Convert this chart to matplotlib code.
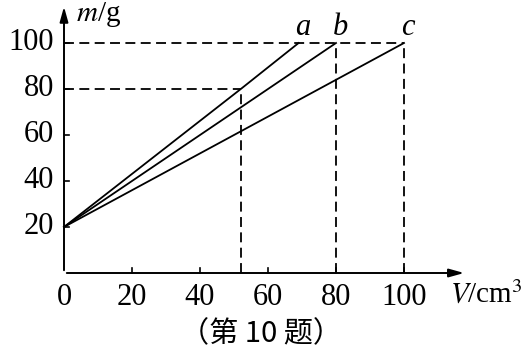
import matplotlib.pyplot as plt

# data
volume_a = [0, 52, 69]
mass_a = [20, 80, 100]
volume_b = [0, 80]
mass_b = [20, 100]
volume_c = [0, 100]
mass_c = [20, 100]
x_ticks = [0, 20, 40, 60, 80, 100]
y_ticks = [20, 40, 60, 80, 100]
line_names = ['a', 'b', 'c']

plt.rcParams['font.family'] = ['Liberation Serif', 'DejaVu Serif']
plt.rcParams['mathtext.fontset'] = 'stix'

fig = plt.figure(figsize=(5.22, 3.51), dpi=100)
ax = fig.add_axes([0, 0, 1, 1])
ax.set_xlim(-64 / 3.4, (522 - 64) / 3.4)
ax.set_ylim(-78 / 2.30, 273 / 2.30)
ax.axis('off')

lw = 1.3
dash = (0, (5.5, 3))

# axes with arrows
ax.annotate('', xy=(118.5, 0), xytext=(0, 0),
            arrowprops=dict(arrowstyle='-|>,head_length=0.9,head_width=0.25', color='black', lw=1.4))
ax.annotate('', xy=(0, 117), xytext=(0, 0),
            arrowprops=dict(arrowstyle='-|>,head_length=0.9,head_width=0.25', color='black', lw=1.4))

# ticks and labels
for x in x_ticks:
    if x > 0:
        ax.plot([x, x], [0, 2.2], color='black', lw=1.2)
    ax.text(x, -4.5, str(x), ha='center', va='top', fontsize=22)
for y in y_ticks:
    ax.plot([0, 1.5], [y, y], color='black', lw=1.2)
    ax.text(-3, y, str(y), ha='right', va='center', fontsize=22)

# dashed guide lines
ax.plot([0, 100], [100, 100], color='black', lw=lw, linestyle=dash)
ax.plot([80, 80], [0, 100], color='black', lw=lw, linestyle=dash)
ax.plot([100, 100], [0, 100], color='black', lw=lw, linestyle=dash)
ax.plot([0, volume_a[1]], [mass_a[1], mass_a[1]], color='black', lw=lw, linestyle=dash)
ax.plot([volume_a[1], volume_a[1]], [0, mass_a[1]], color='black', lw=lw, linestyle=dash)

# lines
ax.plot(volume_a, mass_a, color='black', lw=lw)
ax.plot(volume_b, mass_b, color='black', lw=lw)
ax.plot(volume_c, mass_c, color='black', lw=lw)

for name, vx in zip(line_names, [volume_a[-1], volume_b[-1], volume_c[-1]]):
    ax.text(vx + 1.2, 100.5, name, ha='center', va='bottom', fontsize=22, style='italic')

ax.text(3.5, 118.5, r'$m$/g', ha='left', va='top', fontsize=21)
ax.text(113.5, -3.5, r'$V$/cm$^3$', ha='left', va='top', fontsize=21)

ax.text(58, -26.5, '（第 10 题）', ha='center', va='center', fontsize=21,
        family=['Noto Sans CJK SC', 'DejaVu Sans'])

fig.savefig('out.png', dpi=100)
